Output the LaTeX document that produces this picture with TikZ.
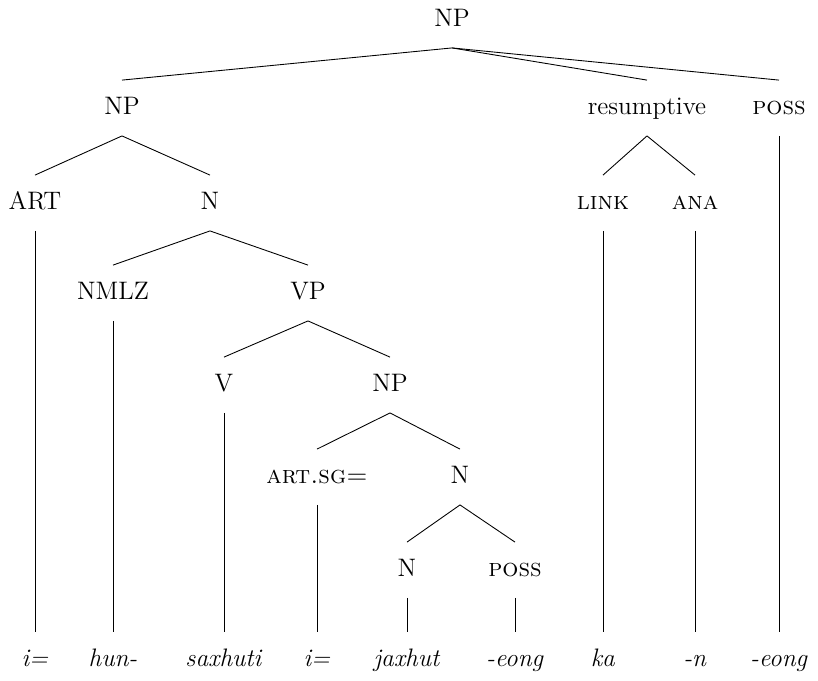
\documentclass[tikz,border=0pt]{standalone}
\usepackage{tikz}
\usetikzlibrary{positioning}

\begin{document}
\begin{tikzpicture}[x=0.455pt, y=-0.455pt]
	\tikzstyle{every node}=[font=\fontsize{11.5}{14}\selectfont, minimum height=25pt, text height=8pt, text depth=2.5pt, inner sep=1pt]
	\useasboundingbox (0,0) rectangle (818,680);
	\coordinate (leafRow) at (0,660);

	\node (root) at (452,20) {NP};
	\node (np) at (122,108) {NP};
	\node (resumptive) at (647,108) {resumptive};
	\node (possTop) at (779,108) {\textsc{poss}};
	\node (art) at (35,203) {ART};
	\node (n) at (210,203) {N};
	\node (link) at (603,203) {\textsc{link}};
	\node (ana) at (695,203) {\textsc{ana}};
	\node (nmlz) at (113,293) {NMLZ};
	\node (vp) at (308,293) {VP};
	\node (v) at (224,385) {V};
	\node (npObj) at (390,385) {NP};
	\node (artSg) at (317,477) {\textsc{art.sg=}};
	\node (nPoss) at (460,477) {N};
	\node (nStem) at (407,570) {N};
	\node (poss) at (515,570) {\textsc{poss}};

	\node (artWord) at (art |- leafRow) {\textit{i=}};
	\node (hunWord) at (nmlz |- leafRow) {\textit{hun-}};
	\node (saxhutiWord) at (v |- leafRow) {\textit{saxhuti}};
	\node (artSgWord) at (artSg |- leafRow) {\textit{i=}};
	\node (jaxhutWord) at (nStem |- leafRow) {\textit{jaxhut}};
	\node (possWord) at (poss |- leafRow) {\textit{-eong}};
	\node (linkWord) at (link |- leafRow) {\textit{ka}};
	\node (anaWord) at (ana |- leafRow) {\textit{-n}};
	\node (possTopWord) at (possTop |- leafRow) {\textit{-eong}};

	\draw (root.south) -- (np.north);
	\draw (root.south) -- (resumptive.north);
	\draw (root.south) -- (possTop.north);
	\draw (np.south) -- (art.north);
	\draw (np.south) -- (n.north);
	\draw (resumptive.south) -- (link.north);
	\draw (resumptive.south) -- (ana.north);
	\draw (n.south) -- (nmlz.north);
	\draw (n.south) -- (vp.north);
	\draw (vp.south) -- (v.north);
	\draw (vp.south) -- (npObj.north);
	\draw (npObj.south) -- (artSg.north);
	\draw (npObj.south) -- (nPoss.north);
	\draw (nPoss.south) -- (nStem.north);
	\draw (nPoss.south) -- (poss.north);

	\draw (art.south) -- (artWord.north);
	\draw (nmlz.south) -- (hunWord.north);
	\draw (v.south) -- (saxhutiWord.north);
	\draw (artSg.south) -- (artSgWord.north);
	\draw (nStem.south) -- (jaxhutWord.north);
	\draw (poss.south) -- (possWord.north);
	\draw (link.south) -- (linkWord.north);
	\draw (ana.south) -- (anaWord.north);
	\draw (possTop.south) -- (possTopWord.north);
\end{tikzpicture}
\end{document}
